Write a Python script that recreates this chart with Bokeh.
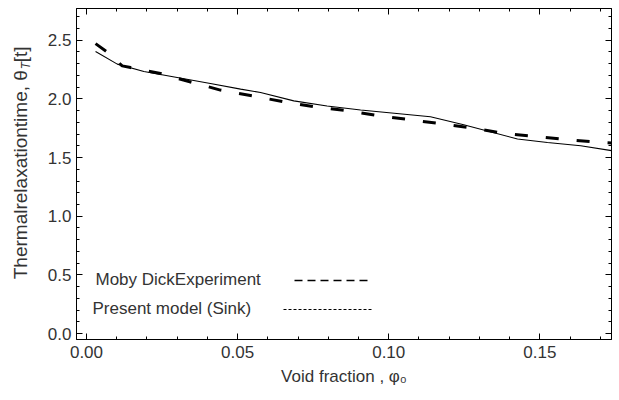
from bokeh.plotting import figure
from bokeh.layouts import row
from bokeh.models import (Range1d, SingleIntervalTicker, LinearAxis,
                          NumeralTickFormatter, CustomJSTickFormatter,
                          Label, Arrow)
from bokeh.core.properties import value
from bokeh.embed import file_html
from bokeh.resources import INLINE

# Present model (sink) curve
model_phi = [0.003, 0.0102, 0.019, 0.030, 0.041, 0.051, 0.0576, 0.0686,
             0.0796, 0.0907, 0.1138, 0.1248, 0.1426, 0.1525, 0.1635, 0.1737]
model_theta = [2.403, 2.296, 2.233, 2.182, 2.131, 2.083, 2.054, 1.983,
               1.940, 1.905, 1.848, 1.780, 1.658, 1.629, 1.601, 1.559]

# Moby Dick experiment
exp_phi = [0.003, 0.0074, 0.0118, 0.0146, 0.0245, 0.0339, 0.0443, 0.0548,
           0.0653, 0.0752, 0.0863, 0.0966, 0.1072, 0.1178, 0.1287, 0.1393,
           0.1496, 0.1602, 0.1707, 0.1737]
exp_theta = [2.471, 2.389, 2.281, 2.267, 2.216, 2.148, 2.075, 2.026,
             1.975, 1.933, 1.899, 1.856, 1.822, 1.786, 1.748, 1.701,
             1.678, 1.650, 1.629, 1.625]

legend_labels = ["Moby DickExperiment", "Present model (Sink)"]
x_title = "Void fraction , \u03c6\u2080"
y_title_main = "Thermalrelaxationtime, \u03b8"
y_title_sub = "T"
y_title_tail = "[t]"

FONT = "Liberation Sans"
TXT = "#333333"

# ---- main plot -------------------------------------------------------
p = figure(width=579, height=400, output_backend="svg", toolbar_location=None,
           x_range=Range1d(-0.0033, 0.1737), y_range=Range1d(-0.05, 2.77),
           min_border_left=36, min_border_right=8, min_border_top=8,
           min_border_bottom=61, background_fill_color="white",
           border_fill_color="white")
p.grid.visible = False
p.outline_line_color = "black"
p.outline_line_width = 1

xt = SingleIntervalTicker(interval=0.05, num_minor_ticks=5)
yt = SingleIntervalTicker(interval=0.5, num_minor_ticks=5)

def style_axis(ax):
    ax.axis_line_color = "black"
    ax.major_tick_line_color = "black"
    ax.minor_tick_line_color = "black"
    ax.major_tick_in = 6
    ax.major_tick_out = 0
    ax.minor_tick_in = 3
    ax.minor_tick_out = 0
    ax.major_label_text_font = FONT
    ax.major_label_text_font_size = "17px"
    ax.major_label_text_color = TXT
    ax.axis_label_text_font = FONT
    ax.axis_label_text_font_size = "17px"
    ax.axis_label_text_font_style = "normal"
    ax.axis_label_text_color = TXT

xa = p.xaxis[0]
xa.ticker = xt
xa.formatter = NumeralTickFormatter(format="0.00")
style_axis(xa)
xa.major_label_standoff = 6
xa.axis_label = x_title
xa.axis_label_standoff = 6

ya = p.yaxis[0]
ya.ticker = yt
ya.formatter = NumeralTickFormatter(format="0.0")
style_axis(ya)
ya.major_label_standoff = 5

# Unlabelled frame ticks on top and right
blank = CustomJSTickFormatter(code="return ''")
for loc, tk in (("above", xt), ("right", yt)):
    ax = LinearAxis(ticker=tk, formatter=blank)
    style_axis(ax)
    ax.major_label_standoff = 0
    p.add_layout(ax, loc)

# Curves
p.line(model_phi, model_theta, line_color="black", line_width=1.1)
p.line(exp_phi, exp_theta, line_color="black", line_width=3,
       line_dash="13 18")

# Key: text followed by its line sample
p.add_layout(Label(x=19, y=60, x_units="screen", y_units="screen",
                   text=legend_labels[0], text_baseline="middle",
                   text_font=FONT, text_font_size="17px", text_color=TXT))
p.add_layout(Arrow(end=None, x_start=218, y_start=59, x_end=296, y_end=59,
                   start_units="screen", end_units="screen",
                   line_color="black", line_width=1.3, line_dash="8 5"))
p.add_layout(Label(x=16, y=31, x_units="screen", y_units="screen",
                   text=legend_labels[1], text_baseline="middle",
                   text_font=FONT, text_font_size="17px", text_color=TXT))
p.add_layout(Arrow(end=None, x_start=207, y_start=30, x_end=296, y_end=30,
                   start_units="screen", end_units="screen",
                   line_color="black", line_width=1, line_dash="3 2"))

# ---- rotated y title with subscript, in a narrow strip ---------------
lf = figure(width=40, height=400, output_backend="svg", toolbar_location=None,
            x_range=Range1d(0, 40), y_range=Range1d(0, 400),
            min_border=0, outline_line_color=None,
            background_fill_color="white", border_fill_color="white")
lf.axis.visible = False
lf.grid.visible = False
ang = 1.5708
lf.text(x=[20], y=[325.5], text=[y_title_main], angle=ang,
        text_align="right", text_baseline="middle",
        text_font=value(FONT), text_font_size="19px", text_color=TXT)
lf.text(x=[25.5], y=[326.5], text=[y_title_sub], angle=ang,
        text_align="left", text_baseline="middle", text_font_style="italic",
        text_font=value(FONT), text_font_size="12px", text_color=TXT)
lf.text(x=[20], y=[335], text=[y_title_tail], angle=ang,
        text_align="left", text_baseline="middle",
        text_font=value(FONT), text_font_size="19px", text_color=TXT)

layout = row(lf, p, spacing=0)
open("out.html", "w").write(file_html(layout, INLINE))
